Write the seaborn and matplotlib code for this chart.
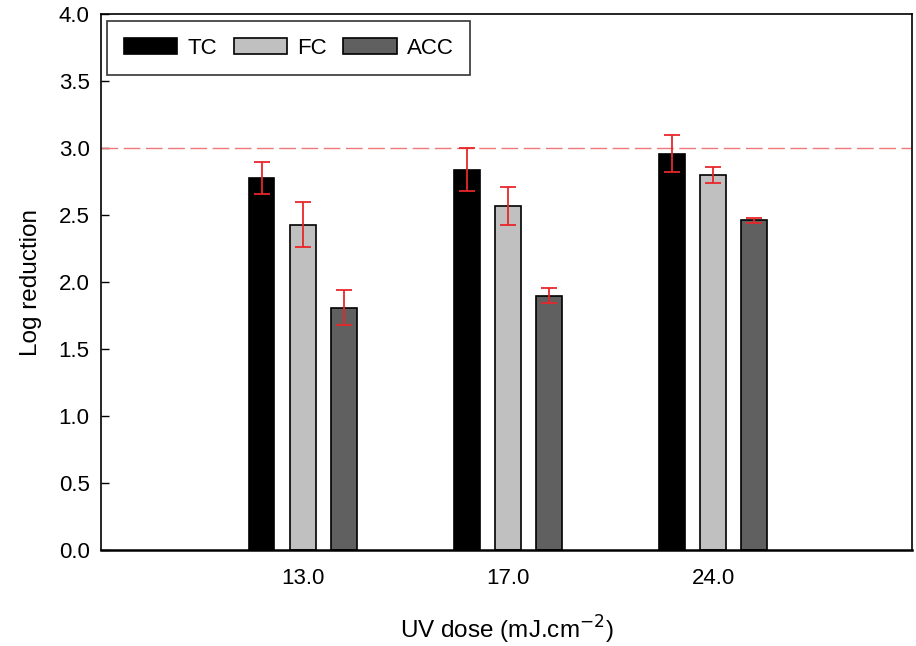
import matplotlib
matplotlib.use("Agg")
import matplotlib.pyplot as plt
import seaborn as sns
import pandas as pd
import numpy as np

doses = ["13.0", "17.0", "24.0"]
series = ["TC", "FC", "ACC"]
tc_vals = [2.78, 2.84, 2.96]
fc_vals = [2.43, 2.57, 2.80]
acc_vals = [1.81, 1.90, 2.46]
tc_err = [0.12, 0.16, 0.14]
fc_err = [0.17, 0.14, 0.06]
acc_err = [0.13, 0.055, 0.015]
colors = ["#000000", "#c0c0c0", "#606060"]
yticks = [0.0, 0.5, 1.0, 1.5, 2.0, 2.5, 3.0, 3.5, 4.0]
threshold = 3.0

sns.set_style("white")
plt.rcParams["font.family"] = ["Liberation Sans", "DejaVu Sans"]
plt.rcParams["text.color"] = "black"
plt.rcParams["axes.labelcolor"] = "black"
plt.rcParams["xtick.color"] = "black"
plt.rcParams["ytick.color"] = "black"

vals = {"TC": tc_vals, "FC": fc_vals, "ACC": acc_vals}
errs = {"TC": tc_err, "FC": fc_err, "ACC": acc_err}
rows = []
for s in series:
    for d, v, e in zip(doses, vals[s], errs[s]):
        rows.append({"dose": d, "series": s, "value": v, "err": e})
df = pd.DataFrame(rows)

fig = plt.figure(figsize=(9.16, 6.46), dpi=100)
ax = fig.add_axes([0.110, 0.1486, 0.8856, 0.8294])

sns.barplot(data=df, x="dose", y="value", hue="series", order=doses,
            hue_order=series, palette=colors, width=0.6, gap=0.38,
            edgecolor="black", linewidth=1.2, errorbar=None, ax=ax,
            saturation=1)

# error bars from bar patches
bars = [p for p in ax.patches if p.get_height() > 0][:9]
for i, s in enumerate(series):
    for j, d in enumerate(doses):
        p = bars[i * 3 + j]
        cx = p.get_x() + p.get_width() / 2
        ax.errorbar(cx, p.get_height(), yerr=errs[s][j], fmt="none",
                    ecolor="#e8262a", elinewidth=1.3, capsize=6,
                    capthick=1.3, zorder=5)

ax.axhline(threshold, color="#f07878", lw=1.0, dashes=(12, 4), zorder=1)

ax.set_ylim(0, 4.0)
ax.set_xlim(-0.985, 2.97)
ax.set_yticks(yticks)
ax.set_yticklabels([f"{t:.1f}" for t in yticks], fontsize=16)
ax.set_xticks(range(len(doses)))
ax.set_xticklabels(doses, fontsize=16)
ax.tick_params(axis="y", direction="in", length=6, width=1, left=True, pad=8)
ax.tick_params(axis="x", length=0, pad=13)
for sp in ax.spines.values():
    sp.set_visible(True)
    sp.set_color("black")
    sp.set_linewidth(1.2)
ax.spines["bottom"].set_linewidth(1.8)

ax.set_ylabel("Log reduction", fontsize=17.5, labelpad=12)
ax.set_xlabel("UV dose (mJ.cm$^{-2}$)", fontsize=17.5, labelpad=18)

leg = ax.legend(loc="upper left", ncol=3, fontsize=16, frameon=True,
                fancybox=False, edgecolor="black", handlelength=2.4,
                handleheight=0.75, columnspacing=0.75, handletextpad=0.45,
                borderpad=0.75, borderaxespad=0.3)
leg.get_frame().set_linewidth(1.2)
leg.set_title(None)

fig.savefig("out.png", dpi=100)
